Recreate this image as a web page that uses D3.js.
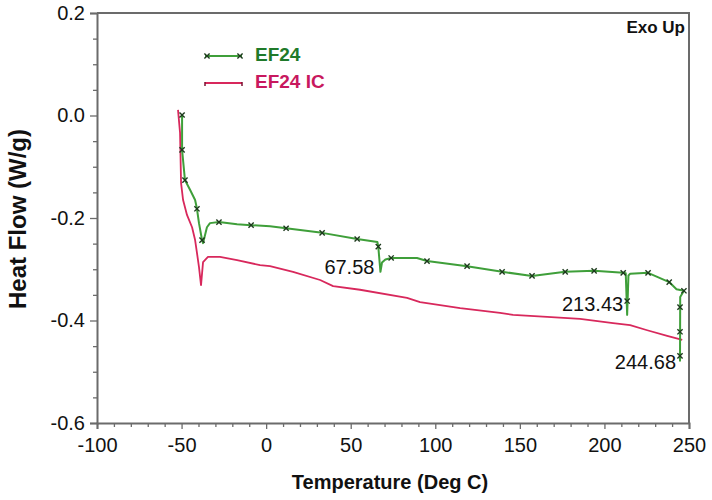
<!DOCTYPE html>
<html>
<head>
<meta charset="utf-8">
<script src="https://cdn.jsdelivr.net/npm/d3@7"></script>
<style>
  body { margin: 0; background: #fff; }
  svg { display: block; font-family: "Liberation Sans", Arial, sans-serif; }
</style>
</head>
<body>
<svg id="chart" width="712" height="500"></svg>
<script>
// ---- data ----
const xTicks = [-100, -50, 0, 50, 100, 150, 200, 250];
const yTicks = [0.2, 0.0, -0.2, -0.4, -0.6];
const seriesNames = ["EF24", "EF24 IC"];

const ef24Temp = [-49.7, -49.7, -48.0, -45.0, -42.0, -40.9, -39.7, -37.9, -37.3, -35.0, -33.2, -27.9, -17.2, -8.9, 2.3, 11.8, 33.1, 53.8, 65.8, 66.3, 67.58, 68.5, 70.5, 73.9, 89.2, 95.1, 118.8, 139.5, 157.2, 176.8, 193.9, 211.1, 212.6, 213.43, 214.2, 215.2, 225.8, 238.3, 242.6, 247.0, 244.8, 244.68];
const ef24Flow = [0.001, -0.067, -0.126, -0.145, -0.165, -0.182, -0.210, -0.243, -0.249, -0.218, -0.210, -0.208, -0.212, -0.214, -0.216, -0.220, -0.229, -0.241, -0.247, -0.256, -0.305, -0.287, -0.281, -0.278, -0.278, -0.284, -0.294, -0.305, -0.313, -0.305, -0.303, -0.307, -0.308, -0.389, -0.312, -0.309, -0.307, -0.325, -0.339, -0.342, -0.354, -0.480];

const ef24MarkTemp = [-49.7, -49.7, -48.0, -40.9, -37.9, -27.9, -8.9, 11.8, 33.1, 53.8, 66.3, 73.9, 95.1, 118.8, 139.5, 157.2, 176.8, 193.9, 211.1, 213.43, 225.8, 238.3, 247.0, 244.68, 244.68, 244.68];
const ef24MarkFlow = [0.001, -0.067, -0.126, -0.182, -0.243, -0.208, -0.214, -0.220, -0.229, -0.241, -0.256, -0.278, -0.284, -0.294, -0.305, -0.313, -0.305, -0.303, -0.307, -0.362, -0.307, -0.325, -0.342, -0.374, -0.422, -0.469];

const icTemp = [-52.1, -50.9, -50.3, -49.1, -46.8, -43.8, -42.0, -40.9, -39.7, -38.5, -37.3, -34.4, -27.3, -17.2, -3.6, 2.3, 15.9, 31.9, 39.6, 55.5, 83.3, 91.0, 114.7, 138.3, 146.0, 166.1, 185.6, 205.1, 215.2, 225.3, 237.1, 246.0];
const icFlow = [0.011, -0.034, -0.132, -0.165, -0.194, -0.218, -0.243, -0.268, -0.296, -0.331, -0.286, -0.276, -0.276, -0.282, -0.292, -0.294, -0.305, -0.321, -0.333, -0.340, -0.356, -0.364, -0.376, -0.385, -0.389, -0.393, -0.397, -0.405, -0.409, -0.419, -0.430, -0.438];

const annTemp = [67.58, 213.43, 244.68];
const annFlow = [-0.305, -0.371, -0.484];
const annText = ["67.58", "213.43", "244.68"];

// ---- layout ----
const svg = d3.select("#chart");
const L = 97, R = 689, T = 13, B = 423;
const x = d3.scaleLinear().domain([-100, 250]).range([L, R]);
const y = d3.scaleLinear().domain([-0.6, 0.2]).range([B, T]);

const green = "#3f9f3a", red = "#d8285c";
const hyph = s => s.replace(/\u2212/g, "-");

// frame top/right
svg.append("path").attr("d", `M${L},${T}H${R}V${B}`).attr("fill", "none").attr("stroke", "#6b6b6b").attr("stroke-width", 2);

// minor ticks
const xMinor = d3.range(-100, 251, 10).filter(v => !xTicks.includes(v));
const yMinor = d3.range(-0.6, 0.2001, 0.05).filter(v => !yTicks.some(t => Math.abs(t - v) < 1e-6));

svg.append("g").attr("transform", `translate(0,${B})`)
  .call(d3.axisBottom(x).tickValues(xTicks).tickFormat(d => hyph(d3.format("d")(d))).tickSize(6).tickPadding(9));
svg.append("g").attr("transform", `translate(0,${B})`)
  .call(d3.axisBottom(x).tickValues(xMinor).tickFormat("").tickSize(4))
  .call(g => g.select(".domain").remove());
svg.append("g").attr("transform", `translate(${L},0)`)
  .call(d3.axisLeft(y).tickValues(yTicks).tickFormat(d => hyph(d3.format(".1f")(d))).tickSize(7).tickPadding(5));
svg.append("g").attr("transform", `translate(${L},0)`)
  .call(d3.axisLeft(y).tickValues(yMinor).tickFormat("").tickSize(4))
  .call(g => g.select(".domain").remove());

svg.selectAll(".domain").attr("stroke", "#6b6b6b").attr("stroke-width", 2);
svg.selectAll(".tick line").attr("stroke", "#6b6b6b").attr("stroke-width", 1.3);
svg.selectAll(".tick text").attr("font-size", 20).attr("fill", "#111").attr("font-family", "Liberation Sans, Arial, sans-serif");

// axis titles
svg.append("text").attr("x", 390).attr("y", 489).attr("text-anchor", "middle")
  .attr("font-size", 20).attr("font-weight", "bold").attr("fill", "#111").text("Temperature (Deg C)");
svg.append("text").attr("transform", `translate(26,219) rotate(-90)`).attr("text-anchor", "middle")
  .attr("font-size", 24).attr("font-weight", "bold").attr("fill", "#111").text("Heat Flow (W/g)");

svg.append("text").attr("x", 685).attr("y", 33).attr("text-anchor", "end")
  .attr("font-size", 17).attr("font-weight", "bold").attr("fill", "#111").text("Exo Up");

// lines
const line = d3.line().x(d => x(d[0])).y(d => y(d[1]));
const icData = icTemp.map((t, i) => [t, icFlow[i]]);
const efData = ef24Temp.map((t, i) => [t, ef24Flow[i]]);
svg.append("path").datum(icData).attr("d", line).attr("fill", "none").attr("stroke", red).attr("stroke-width", 1.8).attr("stroke-linejoin", "round");
svg.append("path").datum(efData).attr("d", line).attr("fill", "none").attr("stroke", green).attr("stroke-width", 2).attr("stroke-linejoin", "round");

// markers
const mk = 2.6;
const markData = ef24MarkTemp.map((t, i) => [t, ef24MarkFlow[i]]);
svg.append("g").selectAll("path").data(markData).join("path")
  .attr("d", d => { const cx = x(d[0]), cy = y(d[1]); return `M${cx-mk},${cy-mk}L${cx+mk},${cy+mk}M${cx-mk},${cy+mk}L${cx+mk},${cy-mk}`; })
  .attr("stroke", "#1d3a1d").attr("stroke-width", 1.4).attr("fill", "none");

// annotations
const annDx = [-6, -4, -4];
const annDy = [-3, 0, 0];
svg.append("g").selectAll("text").data(annText).join("text")
  .attr("x", (d, i) => x(annTemp[i]) + annDx[i])
  .attr("y", (d, i) => y(annFlow[i]) + annDy[i])
  .attr("text-anchor", "end")
  .attr("dominant-baseline", "middle")
  .attr("font-size", 20).attr("fill", "#111").text(d => d);

// legend
const lg = svg.append("g");
const lgX1 = 205, lgX2 = 242;
const lgY = [56, 83];
const lgColor = [green, red];
const lgText = ["#1f7a2a", "#c8185e"];
seriesNames.forEach((name, i) => {
  lg.append("line").attr("x1", lgX1).attr("x2", lgX2).attr("y1", lgY[i]).attr("y2", lgY[i])
    .attr("stroke", lgColor[i]).attr("stroke-width", 2.2);
  if (i === 0) {
    [lgX1 + 2, lgX2 - 2].forEach(cx => {
      lg.append("path").attr("d", `M${cx-mk},${lgY[i]-mk}L${cx+mk},${lgY[i]+mk}M${cx-mk},${lgY[i]+mk}L${cx+mk},${lgY[i]-mk}`)
        .attr("stroke", "#1d3a1d").attr("stroke-width", 1.4);
    });
  } else {
    [lgX1, lgX2].forEach(cx => {
      lg.append("line").attr("x1", cx).attr("x2", cx).attr("y1", lgY[i] - 1).attr("y2", lgY[i] + 3)
        .attr("stroke", "#7a1030").attr("stroke-width", 1.5);
    });
  }
  lg.append("text").attr("x", 255).attr("y", lgY[i]).attr("dominant-baseline", "middle")
    .attr("font-size", 19).attr("font-weight", "bold").attr("fill", lgText[i]).text(name);
});
</script>
</body>
</html>
